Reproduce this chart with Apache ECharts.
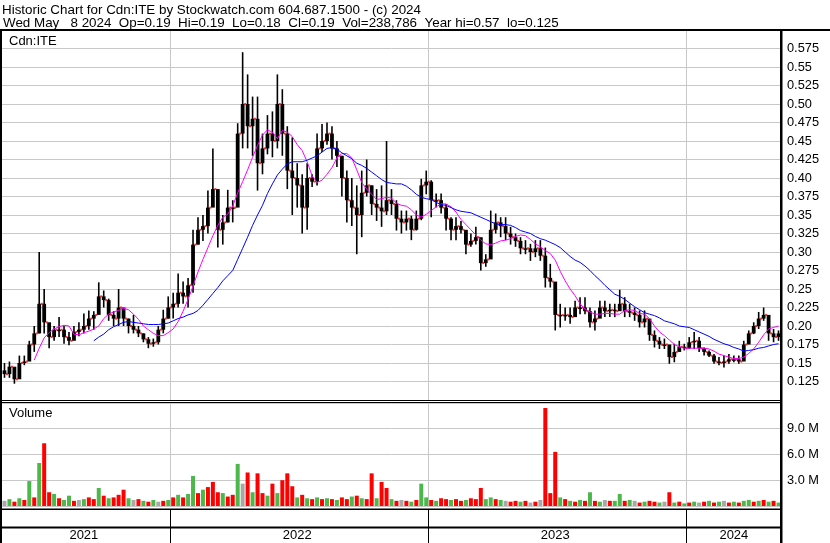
<!DOCTYPE html>
<html>
<head>
<meta charset="utf-8">
<script src="https://cdn.jsdelivr.net/npm/echarts@6/dist/echarts.min.js"></script>
<style>
  html, body { margin: 0; padding: 0; background: #fff; }
  #chart { width: 830px; height: 543px; }
</style>
</head>
<body>
<div id="chart"></div>
<script>
// weekly bars
const yearLabels = ['2021', '2022', '2023', '2024'];
const weeksPerYear = [34, 52, 52, 19];
const yearLabelWeek = [16, 59, 111, 147];

const firstOpen = 0.14;
const highs = [.150,.152,.140,.160,.160,.180,.200,.300,.250,.200,
  .200,.212,.200,.192,.200,.205,.217,.221,.220,.259,
  .248,.237,.220,.250,.220,.210,.215,.200,.190,.185,
  .183,.200,.222,.240,.245,.271,.260,.265,.330,.347,
  .350,.383,.440,.375,.350,.384,.370,.474,.570,.540,
  .510,.510,.460,.485,.490,.540,.520,.470,.455,.420,
  .405,.420,.405,.460,.473,.475,.470,.450,.430,.410,
  .400,.390,.410,.425,.390,.385,.390,.450,.385,.370,
  .356,.356,.349,.356,.399,.410,.397,.379,.379,.365,
  .347,.347,.342,.329,.325,.334,.300,.297,.356,.352,
  .347,.347,.334,.325,.320,.316,.311,.316,.316,.306,
  .284,.234,.230,.225,.225,.234,.239,.239,.225,.221,
  .234,.234,.230,.230,.249,.239,.230,.225,.221,.221,
  .207,.194,.185,.183,.171,.176,.180,.176,.185,.192,
  .185,.171,.167,.162,.158,.160,.162,.160,.160,.180,
  .194,.205,.219,.225,.198,.196,.194];
const lows = [.130,.130,.122,.138,.147,.158,.165,.190,.190,.170,
  .180,.185,.176,.174,.185,.186,.190,.195,.195,.221,
  .225,.207,.200,.200,.200,.190,.190,.185,.178,.170,
  .172,.175,.190,.210,.210,.225,.230,.225,.245,.310,
  .315,.325,.370,.306,.310,.340,.340,.387,.440,.440,
  .430,.383,.405,.432,.428,.440,.430,.385,.350,.360,
  .325,.330,.388,.390,.435,.445,.425,.415,.375,.340,
  .335,.297,.320,.375,.350,.342,.334,.350,.350,.329,
  .325,.329,.316,.329,.343,.378,.347,.360,.352,.329,
  .316,.316,.325,.297,.307,.310,.275,.280,.302,.325,
  .320,.316,.310,.307,.297,.297,.288,.293,.288,.252,
  .252,.194,.198,.207,.203,.214,.216,.216,.198,.194,
  .216,.212,.212,.212,.221,.212,.212,.207,.198,.198,
  .180,.171,.169,.169,.149,.151,.167,.167,.169,.169,
  .165,.160,.158,.149,.147,.144,.149,.151,.149,.158,
  .180,.189,.196,.207,.180,.178,.180];
const closes = [.135,.145,.128,.150,.152,.175,.190,.230,.205,.185,
  .195,.195,.185,.180,.192,.195,.200,.210,.215,.240,
  .235,.215,.210,.225,.210,.200,.195,.190,.182,.176,
  .178,.195,.210,.225,.230,.245,.240,.255,.310,.330,
  .335,.360,.385,.330,.340,.360,.360,.460,.500,.470,
  .480,.420,.440,.460,.450,.500,.460,.410,.400,.390,
  .360,.400,.395,.440,.450,.460,.440,.430,.400,.370,
  .360,.350,.380,.390,.365,.360,.355,.370,.365,.345,
  .340,.345,.330,.345,.390,.395,.370,.370,.360,.345,
  .330,.335,.330,.310,.315,.320,.285,.290,.330,.340,
  .335,.325,.320,.315,.305,.305,.300,.305,.295,.265,
  .260,.215,.215,.215,.212,.225,.225,.220,.205,.210,
  .225,.220,.222,.220,.230,.220,.218,.215,.205,.210,
  .188,.180,.175,.175,.158,.165,.172,.170,.178,.180,
  .170,.165,.160,.152,.150,.152,.155,.155,.152,.175,
  .190,.200,.210,.215,.190,.185,.190];

// magenta and blue averages as drawn
const maShort = [null,null,null,null,null,null,.154,.170,.184,.191,
  .196,.199,.201,.200,.189,.188,.191,.193,.196,.200,
  .210,.216,.219,.221,.224,.222,.216,.209,.200,.195,
  .190,.187,.187,.191,.196,.206,.220,.236,.254,.273,
  .290,.306,.322,.336,.347,.351,.362,.380,.395,.411,
  .428,.444,.458,.465,.462,.453,.464,.462,.456,.445,
  .437,.422,.403,.394,.397,.405,.414,.427,.433,.433,
  .427,.411,.394,.385,.378,.371,.372,.374,.373,.366,
  .363,.362,.357,.350,.347,.351,.356,.361,.365,.365,
  .361,.354,.344,.337,.330,.323,.316,.311,.310,.312,
  .315,.316,.318,.321,.323,.322,.317,.311,.307,.302,
  .298,.289,.274,.261,.250,.241,.230,.223,.219,.216,
  .216,.217,.217,.216,.216,.221,.222,.221,.217,.216,
  .210,.200,.192,.187,.181,.175,.172,.170,.170,.170,
  .170,.170,.169,.166,.162,.160,.158,.156,.156,.158,
  .163,.169,.178,.188,.196,.198,.200];
const maLong = [null,null,null,null,null,null,null,null,null,null,
  null,null,null,null,null,null,null,null,.180,.185,
  .189,.195,.199,.202,.205,.206,.205,.204,.203,.202,
  .202,.202,.203,.204,.207,.210,.212,.215,.217,.221,
  .228,.236,.244,.252,.261,.268,.275,.290,.305,.320,
  .336,.350,.363,.379,.392,.404,.412,.419,.422,.422,
  .422,.424,.427,.430,.435,.440,.441,.439,.434,.430,
  .426,.420,.417,.413,.408,.403,.398,.394,.393,.392,
  .392,.389,.384,.378,.374,.372,.371,.367,.364,.363,
  .360,.357,.355,.354,.353,.350,.347,.344,.341,.338,
  .337,.337,.336,.333,.329,.327,.325,.321,.318,.316,
  .313,.310,.306,.300,.294,.289,.286,.281,.275,.268,
  .262,.255,.249,.243,.240,.236,.231,.226,.222,.218,
  .216,.214,.211,.207,.205,.203,.200,.199,.198,.195,
  .192,.189,.186,.182,.179,.176,.174,.171,.169,.166,
  .167,.168,.170,.171,.173,.175,.176];

// volume in millions, tone: r = down, g = up, n = unchanged
const volumes = [0.6,0.8,0.5,0.9,0.7,2.9,1.0,5.0,7.3,1.6,
  1.4,0.9,0.7,1.2,0.6,0.7,0.8,1.0,0.8,2.1,
  1.2,0.9,1.0,1.3,1.9,0.9,0.7,0.8,0.6,0.5,
  0.7,0.5,0.6,0.7,1.0,1.3,1.0,1.4,3.5,1.5,
  1.9,2.2,2.8,1.6,1.5,1.1,1.3,4.9,2.6,3.9,
  1.6,3.8,1.5,1.2,2.6,1.5,3.0,3.8,2.3,1.0,
  1.3,0.9,0.8,1.0,0.8,0.9,0.8,0.7,1.0,0.8,
  1.1,1.2,0.9,0.8,3.8,0.9,2.8,2.1,0.8,0.6,
  0.7,0.6,0.5,0.7,2.6,1.0,0.7,0.6,0.9,0.8,
  0.7,0.8,0.6,0.7,0.9,0.8,2.1,0.8,1.0,0.8,
  0.7,0.6,0.5,0.6,0.5,0.6,0.4,0.5,0.7,11.4,
  1.5,6.3,1.0,0.8,0.6,0.5,0.7,0.6,1.6,0.6,
  0.5,0.7,0.6,0.6,1.4,0.6,0.7,0.6,0.4,0.5,
  0.6,0.5,0.4,0.5,1.6,0.4,0.5,0.3,0.4,0.5,
  0.4,0.5,0.6,0.4,0.5,0.6,0.4,0.5,0.4,0.6,
  0.7,0.5,0.6,0.7,0.5,0.6,0.4];
const volTone = ['n','g','r','g','r','g','r','g','r','r',
  'g','r','g','g','r','n','g','r','r','g',
  'r','g','r','r','r','g','n','r','g','r',
  'g','n','r','g','r','g','r','g','g','r',
  'g','r','r','r','g','r','r','g','n','r',
  'g','r','r','g','r','g','r','r','r','g',
  'r','g','r','g','r','g','r','g','r','r',
  'g','r','g','r','r','g','r','r','g','r',
  'n','r','g','r','g','g','r','g','r','r',
  'g','r','r','g','r','r','r','g','g','r',
  'g','n','r','r','g','r','n','r','n','r',
  'r','r','g','r','g','r','g','r','g','r',
  'g','n','r','g','g','r','g','n','r','g',
  'r','r','g','n','r','g','r','g','r','g',
  'n','r','g','r','g','n','r','g','r','g',
  'g','r','g','r','g','r','g'];

const toneColor = { r: '#ff0000', g: '#4cb84c', n: '#a8a8a8' };
const FONT = 'Liberation Sans, Arial, sans-serif';

// categories + year boundaries
const weeks = [];
const yearStarts = [];
yearLabels.forEach((y, i) => {
  yearStarts.push(weeks.length);
  for (let k = 0; k < weeksPerYear[i]; k++) weeks.push(y + '-w' + (k + 1));
});
const isYearStart = (i) => i > 0 && yearStarts.indexOf(i) >= 0;

// [index, open, close, low, high]
const ohlc = closes.map((c, i) => [i, i === 0 ? firstOpen : closes[i - 1], c, lows[i], highs[i]]);
const volData = volumes.map((v, i) => ({ value: v, itemStyle: { color: toneColor[volTone[i]] } }));

function priceLabel(v) {
  if (v < 0.11 || v > 0.59) return '';
  let s = v.toFixed(3);
  if (s.endsWith('0')) s = s.slice(0, -1);
  return s;
}

function renderBar(params, api) {
  const i = api.value(0);
  const pOpen = api.coord([i, api.value(1)]);
  const pClose = api.coord([i, api.value(2)]);
  const pLow = api.coord([i, api.value(3)]);
  const pHigh = api.coord([i, api.value(4)]);
  const x = pOpen[0];
  const bodyW = 3.8;
  const top = Math.min(pOpen[1], pClose[1]);
  const h = Math.max(1.5, Math.abs(pOpen[1] - pClose[1]));
  return {
    type: 'group',
    children: [
      { type: 'line', shape: { x1: x, y1: pLow[1], x2: x, y2: pHigh[1] }, style: { stroke: '#000', lineWidth: 1.6 } },
      { type: 'rect', shape: { x: x - bodyW / 2, y: top, width: bodyW, height: h }, style: { fill: '#000' } }
    ]
  };
}

const chart = echarts.init(document.getElementById('chart'), null, { renderer: 'canvas' });

const baseX = {
  type: 'category',
  data: weeks,
  boundaryGap: true,
  axisLine: { show: false },
  axisTick: { show: false },
  axisLabel: { show: false },
  splitLine: { show: true, interval: (i) => isYearStart(i), lineStyle: { color: '#c8c8c8', width: 1 } }
};

const option = {
  animation: false,
  backgroundColor: '#ffffff',
  grid: [
    { left: 2, top: 30, width: 779, height: 370 },
    { left: 2, top: 402, width: 779, height: 104 },
    { left: 2, top: 509, width: 779, height: 34 }
  ],
  xAxis: [
    Object.assign({}, baseX, { gridIndex: 0 }),
    Object.assign({}, baseX, { gridIndex: 1 }),
    Object.assign({}, baseX, {
      gridIndex: 2,
      position: 'bottom',
      axisLabel: {
        show: true, inside: true, margin: 1,
        interval: (i) => yearLabelWeek.indexOf(i) >= 0,
        formatter: (v) => v.slice(0, 4),
        color: '#000', fontSize: 13, fontFamily: FONT
      },
      splitLine: { show: true, interval: (i) => isYearStart(i), lineStyle: { color: '#000', width: 1 } }
    })
  ],
  yAxis: [
    {
      gridIndex: 0, type: 'value', position: 'right',
      min: 0.1, max: 0.6, interval: 0.025,
      axisLine: { show: false }, axisTick: { show: false },
      axisLabel: { formatter: priceLabel, color: '#000', fontSize: 12.8, fontFamily: FONT, margin: 6 },
      splitLine: { lineStyle: { color: '#c8c8c8', width: 1 } }
    },
    {
      gridIndex: 1, type: 'value', position: 'right',
      min: 0, max: 12.1, interval: 3,
      axisLine: { show: false }, axisTick: { show: false },
      axisLabel: {
        formatter: (v) => (v > 0 && v < 11) ? v.toFixed(1) + ' M' : '',
        color: '#000', fontSize: 12.8, fontFamily: FONT, margin: 6
      },
      splitLine: { lineStyle: { color: '#c8c8c8', width: 1 } }
    },
    { gridIndex: 2, type: 'value', show: false }
  ],
  series: [
    {
      name: 'price', type: 'custom', xAxisIndex: 0, yAxisIndex: 0,
      data: ohlc, renderItem: renderBar,
      encode: { x: 0, y: [1, 2, 3, 4] }
    },
    {
      name: 'close', type: 'scatter', xAxisIndex: 0, yAxisIndex: 0,
      data: closes, symbol: 'rect', symbolSize: [2, 2], symbolOffset: [2.5, 0],
      itemStyle: { color: '#ff0000' }, z: 3
    },
    {
      name: 'ma short', type: 'line', xAxisIndex: 0, yAxisIndex: 0,
      data: maShort, symbol: 'none', smooth: false,
      lineStyle: { color: '#ff00ff', width: 1 }, z: 4
    },
    {
      name: 'ma long', type: 'line', xAxisIndex: 0, yAxisIndex: 0,
      data: maLong, symbol: 'none', smooth: false,
      lineStyle: { color: '#0000ff', width: 1 }, z: 4
    },
    {
      name: 'volume', type: 'bar', xAxisIndex: 1, yAxisIndex: 1,
      data: volData, barWidth: 4
    }
  ],
  graphic: [
    { type: 'text', x: 2, y: 10, style: { text: 'Historic Chart for Cdn:ITE by Stockwatch.com 604.687.1500 - (c) 2024', font: '13.4px ' + FONT, fill: '#000', verticalAlign: 'middle' } },
    { type: 'text', x: 3, y: 23.5, style: { text: 'Wed May   8 2024  Op=0.19  Hi=0.19  Lo=0.18  Cl=0.19  Vol=238,786  Year hi=0.57  lo=0.125', font: '13.4px ' + FONT, fill: '#000', verticalAlign: 'middle' } },
    { type: 'text', x: 9, y: 41.5, style: { text: 'Cdn:ITE', font: '13px ' + FONT, fill: '#000', verticalAlign: 'middle' } },
    { type: 'text', x: 9, y: 413.5, style: { text: 'Volume', font: '13px ' + FONT, fill: '#000', verticalAlign: 'middle' } },
    // frame
    { type: 'rect', shape: { x: 0, y: 29, width: 830, height: 2 }, style: { fill: '#000' }, z: 10 },
    { type: 'rect', shape: { x: 0, y: 30, width: 2, height: 513 }, style: { fill: '#000' }, z: 10 },
    { type: 'rect', shape: { x: 780, y: 30, width: 2.5, height: 513 }, style: { fill: '#000' }, z: 10 },
    { type: 'rect', shape: { x: 0, y: 400, width: 782, height: 1 }, style: { fill: '#000' }, z: 10 },
    { type: 'rect', shape: { x: 0, y: 402, width: 782, height: 1 }, style: { fill: '#000' }, z: 10 },
    { type: 'rect', shape: { x: 0, y: 508.5, width: 782, height: 1.5 }, style: { fill: '#000' }, z: 10 },
    { type: 'rect', shape: { x: 0, y: 526.5, width: 782, height: 2 }, style: { fill: '#000' }, z: 10 }
  ]
};

chart.setOption(option);
</script>
</body>
</html>
